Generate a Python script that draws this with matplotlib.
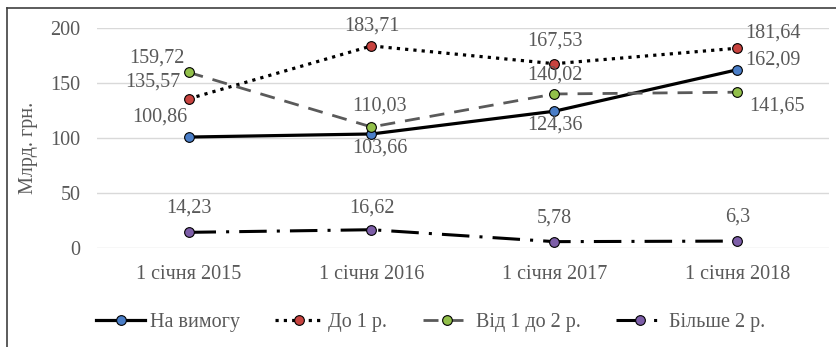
import matplotlib
matplotlib.use("Agg")
import matplotlib.pyplot as plt
from matplotlib.lines import Line2D

plt.rcParams['font.family'] = ['Liberation Serif', 'DejaVu Serif']

dates = ['1 січня 2015', '1 січня 2016', '1 січня 2017', '1 січня 2018']
on_demand = [100.86, 103.66, 124.36, 162.09]
up_to_1y = [135.57, 183.71, 167.53, 181.64]
from_1_to_2y = [159.72, 110.03, 140.02, 141.65]
over_2y = [14.23, 16.62, 5.78, 6.3]

# label offsets in pixels (dx, dy) for every point
off_demand = [(-29, 20), (8, -14), (0, -14), (35, 10)]
off_1y = [(-36, 17), (0, 20), (0, 23), (35, 15)]
off_12y = [(-32, 14), (8, 21), (0, 19), (39, -14)]
off_2y = [(0, 24), (0, 22), (0, 24), (0, 24)]

grey = '#595959'
fs = 14.5

fig = plt.figure(figsize=(8.37, 3.47), dpi=100)
ax = fig.add_axes([0.1159, 0.2853, 0.8745, 0.634])

x = list(range(len(dates)))
series = [
    (on_demand, 'На вимогу', '#4a7ec8', 'black', '-', 2.3, off_demand),
    (up_to_1y, 'До 1 р.', '#c8433f', 'black', (0, (1, 1.6)), 2.3, off_1y),
    (from_1_to_2y, 'Від 1 до 2 р.', '#92c04a', '#5a5a5a', (0, (5.4, 3.6)), 2.0, off_12y),
    (over_2y, 'Більше 2 р.', '#7d5ea8', 'black', (0, (9, 3.3, 1, 3.3)), 2.2, off_2y),
]

for vals, name, mc, lc, ls, lw, offs in series:
    ax.plot(x, vals, color=lc, linestyle=ls, linewidth=lw, marker='o',
            markersize=7, markerfacecolor=mc, markeredgecolor='black',
            markeredgewidth=0.8, label=name)
    for xi, v, (dx, dy) in zip(x, vals, offs):
        ax.annotate(f'{v:g}'.replace('.', ','), (xi, v), xytext=(dx, dy),
                    textcoords='offset pixels', ha='center', va='center',
                    fontsize=fs, color=grey)

ax.set_xlim(-0.5, len(dates) - 0.5)
ax.set_ylim(0, 200)
ax.set_yticks([0, 50, 100, 150, 200])
ax.set_xticks(x)
ax.set_xticklabels(dates)
ax.tick_params(axis='both', length=0, labelsize=fs, colors=grey)
ax.tick_params(axis='x', pad=12)
ax.tick_params(axis='y', pad=12)
ax.grid(axis='y', color='#d9d9d9', linewidth=1)
ax.set_axisbelow(True)
for s in ax.spines.values():
    s.set_visible(False)

fig.text(0.034, 0.575, 'Млрд. грн.', rotation=90, ha='center', va='center',
         fontsize=fs, color=grey)

ax.legend(loc='center', bbox_to_anchor=(0.515, 0.072), bbox_transform=fig.transFigure,
          ncol=4, frameon=False, fontsize=fs, labelcolor=grey,
          handlelength=2.4, handletextpad=0.25, columnspacing=1.75)

# frame lines along the left and top edges
fig.add_artist(Line2D([0.0084, 0.0084], [0, 0.977], color='#404040', linewidth=1.2,
                      transform=fig.transFigure))
fig.add_artist(Line2D([0.0084, 1], [0.977, 0.977], color='#404040', linewidth=1.2,
                      transform=fig.transFigure))

fig.savefig('out.png', dpi=100)
